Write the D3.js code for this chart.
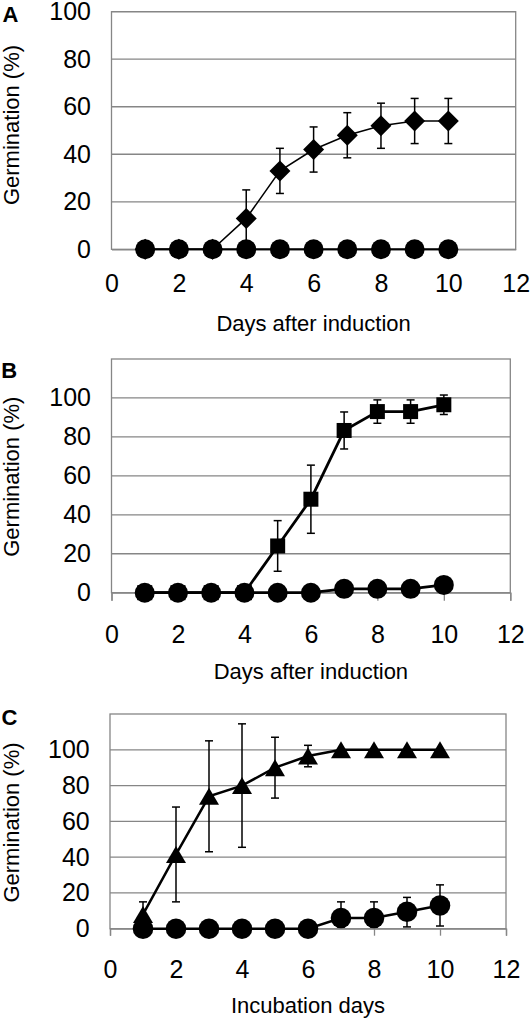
<!DOCTYPE html>
<html><head><meta charset="utf-8">
<script src="https://cdn.jsdelivr.net/npm/d3@7"></script>
<style>
html,body{margin:0;padding:0;background:#fff;}
svg{display:block;font-family:"Liberation Sans",Arial,sans-serif;}
</style></head>
<body>
<script>
const days = [1,2,3,4,5,6,7,8,9,10];
const xTicks = [0,2,4,6,8,10,12];
const yTicks = [0,20,40,60,80,100];
const yGrid = [20,40,60,80,100];

// Panel A
const aDiamond    = [0,0,0,13,33,42,48,52,54,54];
const aDiamondErr = [0,0,0,12,9.5,9.5,9.5,9.5,9.5,9.5];
const aCircle     = [0,0,0,0,0,0,0,0,0,0];
// Panel B
const bSquare    = [0,0,0,0,24,48,83.3,93,93,96.5];
const bSquareErr = [0,0,0,0,13,17.5,9.5,6,6,5];
const bCircle    = [0,0,0,0,0,0,2,2,2,4];
// Panel C
const cTriangle    = [8,41.5,74,80,90,96.5,100,100,100,100];
const cTriangleErr = [7,26.5,31,34.5,17,6,0,0,0,0];
const cCircle      = [0,0,0,0,0,0,6,6,9.5,13];
const cCircleErr   = [0,0,0,0,0,0,9,9,8,11.5];
const cCircleErrLow = [0,0,0,0,0,0,5,5,8.5,11.5];

const labels = {A:"A", B:"B", C:"C"};
const yTitle = "Germination (%)";
const xTitleA = "Days after induction";
const xTitleB = "Days after induction";
const xTitleC = "Incubation days";

const W = 531, H = 1022;
const svg = d3.select("body").append("svg").attr("width", W).attr("height", H);

const GRID = "#868686";
const FONT = 25;

function drawPanel(p) {
  const g = svg.append("g");
  const x = d3.scaleLinear().domain([0,12]).range([p.x0, p.x1]);
  const y = d3.scaleLinear().domain([0,p.yMax]).range([p.y0, p.yTop]);

  g.selectAll(".grid").data(yGrid).join("line")
    .attr("x1", p.x0).attr("x2", p.x1)
    .attr("y1", d => y(d)).attr("y2", d => y(d))
    .attr("stroke", GRID).attr("stroke-width", 1.3);
  g.append("rect").attr("x", p.x0).attr("y", p.yTop)
    .attr("width", p.x1 - p.x0).attr("height", p.y0 - p.yTop)
    .attr("fill", "none").attr("stroke", GRID).attr("stroke-width", 1.3);

  const xa = d3.axisBottom(x).tickValues(xTicks).tickSizeOuter(0)
    .tickSize(p.tick).tickPadding(p.xPad);
  const xg = g.append("g").attr("transform", `translate(0,${p.y0})`).call(xa);
  xg.select(".domain").attr("stroke", GRID).attr("stroke-width", 1.3);
  xg.selectAll(".tick line").attr("stroke", GRID).attr("stroke-width", 1.3);
  xg.selectAll("text").attr("font-size", FONT).attr("fill", "#000")
    .attr("font-family", "Liberation Sans, Arial, sans-serif");

  const ya = d3.axisLeft(y).tickValues(yTicks).tickSize(0).tickPadding(p.yPad);
  const yg = g.append("g").attr("transform", `translate(${p.x0},0)`).call(ya);
  yg.select(".domain").remove();
  yg.selectAll("text").attr("font-size", FONT).attr("fill", "#000")
    .attr("font-family", "Liberation Sans, Arial, sans-serif");

  g.append("text").attr("x", p.labX).attr("y", p.labY).text(p.label)
    .attr("font-size", 22).attr("font-weight", "bold").attr("fill", "#000");
  g.append("text").attr("transform", `translate(19.3,${p.yTitleC}) rotate(-90)`)
    .attr("text-anchor", "middle").attr("font-size", 22).attr("fill", "#000").text(yTitle);
  g.append("text").attr("x", (p.x0 + p.x1) / 2).attr("y", p.xTitleY)
    .attr("text-anchor", "middle").attr("font-size", 22).attr("fill", "#000").text(p.xTitle);

  const line = d3.line().x((d, i) => x(days[i])).y(d => y(d));

  p.series.forEach(s => {
    g.append("path").datum(s.values).attr("d", line)
      .attr("fill", "none").attr("stroke", "#000").attr("stroke-width", s.lw);
    if (s.err) {
      const eb = g.append("g");
      const low = s.errLow || s.err;
      s.values.forEach((v, i) => {
        const e = s.err[i], el = low[i];
        if (!e) return;
        const cx = x(days[i]);
        eb.append("line").attr("x1", cx).attr("x2", cx)
          .attr("y1", y(v + e)).attr("y2", y(v - el));
        eb.append("line").attr("x1", cx - 4).attr("x2", cx + 4)
          .attr("y1", y(v + e)).attr("y2", y(v + e));
        eb.append("line").attr("x1", cx - 4).attr("x2", cx + 4)
          .attr("y1", y(v - el)).attr("y2", y(v - el));
      });
      eb.selectAll("line").attr("stroke", "#000").attr("stroke-width", 1.5);
    }
    const m = g.append("g");
    s.values.forEach((v, i) => {
      const cx = x(days[i]), cy = y(v);
      if (s.shape === "circle") {
        m.append("circle").attr("cx", cx).attr("cy", cy).attr("r", s.size);
      } else if (s.shape === "diamond") {
        const r = s.size;
        m.append("path").attr("d", `M${cx},${cy - r}L${cx + r},${cy}L${cx},${cy + r}L${cx - r},${cy}Z`);
      } else if (s.shape === "square") {
        const r = s.size / 2;
        m.append("rect").attr("x", cx - r).attr("y", cy - r).attr("width", 2 * r).attr("height", 2 * r);
      } else if (s.shape === "triangle") {
        const hw = s.size / 2, hh = s.h / 2;
        m.append("path").attr("d", `M${cx},${cy - hh}L${cx + hw},${cy + hh}L${cx - hw},${cy + hh}Z`);
      }
    });
    m.selectAll("*").attr("fill", "#000");
  });
}

drawPanel({
  label: labels.A, labX: 2.5, labY: 21.7,
  x0: 111.5, x1: 515.7, y0: 249.3, yTop: 11.7, yMax: 100,
  tick: 0, xPad: 25, yPad: 20.5, yTitleC: 125, xTitle: xTitleA, xTitleY: 331,
  series: [
    {values: aDiamond, err: aDiamondErr, shape: "diamond", size: 10.5, lw: 1.5},
    {values: aCircle, shape: "circle", size: 10, lw: 2}
  ]
});
drawPanel({
  label: labels.B, labX: 1.2, labY: 378.3,
  x0: 111.5, x1: 510.3, y0: 592.7, yTop: 359, yMax: 120,
  tick: 8, xPad: 24.5, yPad: 20.5, yTitleC: 476.7, xTitle: xTitleB, xTitleY: 679,
  series: [
    {values: bSquare, err: bSquareErr, shape: "square", size: 15, lw: 2.8},
    {values: bCircle, shape: "circle", size: 10, lw: 2.8}
  ]
});
drawPanel({
  label: labels.C, labX: 1.5, labY: 725,
  x0: 110, x1: 506, y0: 928.7, yTop: 714, yMax: 120,
  tick: 7, xPad: 25, yPad: 20.3, yTitleC: 822.5, xTitle: xTitleC, xTitleY: 1013.3,
  series: [
    {values: cTriangle, err: cTriangleErr, shape: "triangle", size: 20, h: 17, lw: 2.5},
    {values: cCircle, err: cCircleErr, errLow: cCircleErrLow, shape: "circle", size: 10.3, lw: 2.5}
  ]
});
</script>
</body></html>
